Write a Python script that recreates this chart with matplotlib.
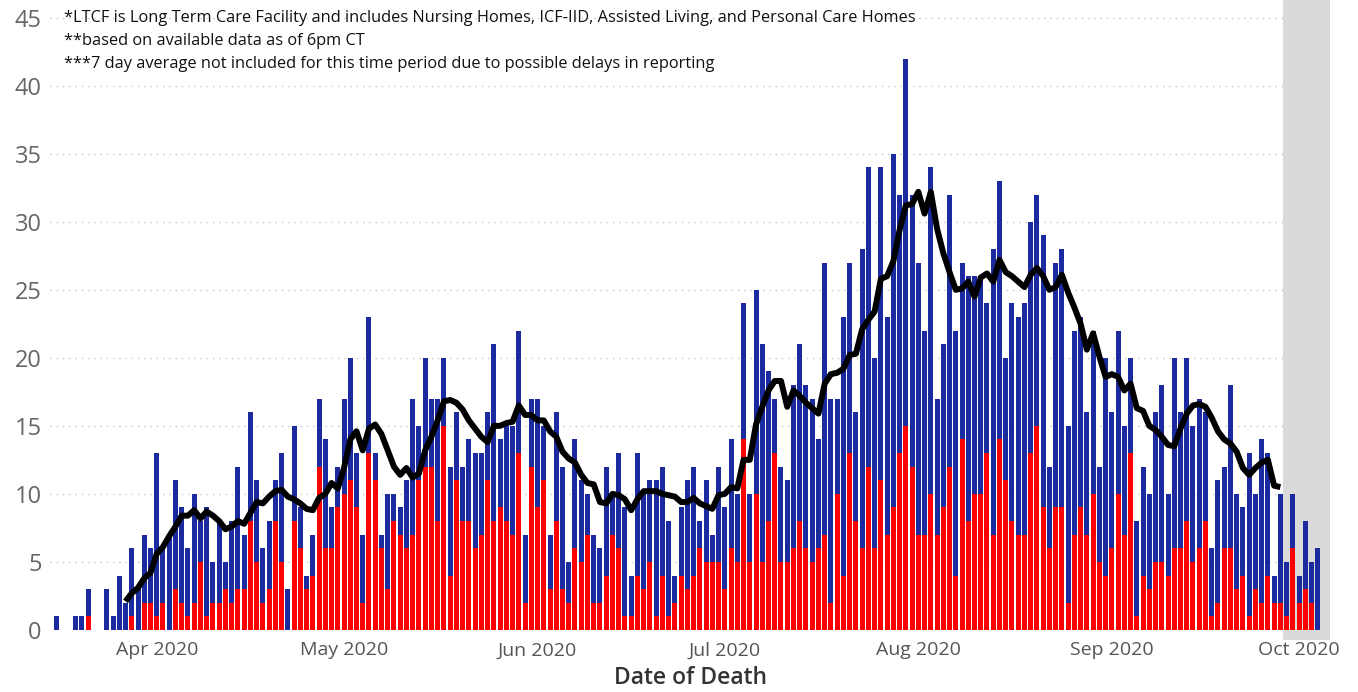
import matplotlib
matplotlib.use("Agg")
import matplotlib.pyplot as plt
import matplotlib.dates as mdates
import pandas as pd
import numpy as np

# ---- data ----
start_date = "2020-03-16"
total_deaths = [
    1, 0, 0, 1, 1, 3, 0, 0, 3, 1, 4, 2, 6, 3, 7, 6,            # Mar 16 - Mar 31
    13, 6, 7, 11, 9, 6, 10, 8, 9, 5, 8, 5, 8, 12, 7, 16, 11, 6, 8, 11,
    13, 3, 15, 9, 4, 7, 17, 14, 9, 12,                            # April
    17, 20, 13, 7, 23, 13, 7, 10, 10, 9, 11, 17, 15, 20, 17, 17, 20, 12,
    16, 12, 14, 13, 13, 16, 21, 14, 15, 15, 22, 7, 17,            # May
    17, 15, 7, 16, 12, 5, 14, 11, 10, 7, 6, 12, 10, 13, 9, 4, 13, 10,
    11, 11, 12, 8, 4, 9, 11, 12, 8, 11, 7, 12,                    # June
    9, 14, 10, 24, 10, 25, 21, 19, 17, 12, 11, 18, 21, 18, 17, 14, 27,
    17, 17, 23, 27, 16, 28, 34, 20, 34, 23, 35, 32, 42, 32,       # July
    27, 22, 34, 17, 21, 32, 22, 27, 26, 26, 26, 24, 28, 33, 20, 24, 23,
    24, 30, 32, 29, 12, 27, 28, 15, 22, 23, 16, 22, 12,           # August
    20, 16, 22, 15, 20, 8, 12, 10, 16, 18, 10, 20, 16, 20, 15, 17, 16,
    6, 11, 12, 18, 10, 9, 13, 10, 14, 13, 4, 10, 5, 10,           # September
    4, 8, 5, 6,                                                   # Oct 1 - Oct 4
]
ltcf_deaths = [
    0, 0, 0, 0, 0, 1, 0, 0, 0, 0, 0, 0, 1, 0, 2, 2,
    1, 2, 0, 3, 2, 1, 2, 5, 1, 2, 2, 3, 2, 3, 3, 8, 5, 2, 3, 8,
    5, 0, 8, 6, 3, 4, 12, 6, 6, 9,
    10, 11, 9, 2, 13, 11, 6, 3, 8, 7, 6, 7, 11, 12, 12, 8, 15, 4,
    11, 8, 8, 6, 7, 11, 8, 9, 8, 7, 13, 2, 12,
    9, 11, 3, 8, 3, 2, 6, 5, 7, 2, 2, 4, 7, 6, 1, 1, 4, 3,
    5, 1, 4, 1, 2, 4, 3, 4, 6, 5, 5, 5,
    3, 6, 5, 14, 5, 10, 5, 8, 13, 5, 5, 6, 8, 6, 5, 6, 7,
    2, 10, 4, 13, 8, 6, 12, 6, 11, 7, 9, 13, 15, 12,
    7, 7, 10, 7, 9, 12, 4, 14, 8, 10, 10, 13, 7, 14, 11, 8, 7,
    7, 13, 15, 9, 6, 9, 9, 2, 7, 9, 7, 10, 5,
    4, 6, 10, 7, 13, 1, 4, 3, 5, 5, 4, 6, 6, 8, 5, 6, 8,
    1, 2, 6, 6, 3, 4, 1, 3, 2, 4, 2, 2, 1, 6,
    2, 3, 2, 0,
]
avg_start_date = "2020-03-27"
seven_day_avg = [
    2.1, 2.7, 3.1, 3.8, 4.2,                                       # Mar 27 - 31
    5.6, 6.1, 6.9, 7.6, 8.4, 8.4, 8.8, 8.2, 8.7, 8.4, 8.0, 7.4, 7.6, 8.0,
    7.8, 8.6, 9.4, 9.3, 9.8, 10.2, 10.3, 9.8, 9.6, 9.3, 8.9, 8.8, 9.7,
    10.0, 10.8, 10.4,                                              # April
    11.9, 14.0, 14.6, 13.2, 14.8, 15.1, 14.4, 13.2, 12.0, 11.4, 11.9, 11.2,
    11.5, 13.2, 14.2, 15.4, 16.8, 16.9, 16.7, 16.2, 15.4, 14.8, 14.2, 13.8,
    15.0, 15.0, 15.2, 15.3, 16.5, 15.8, 15.8,                      # May
    15.4, 15.4, 14.6, 14.2, 13.1, 12.6, 12.3, 11.4, 10.8, 10.7, 9.4, 9.3,
    10.0, 9.9, 9.6, 8.8, 9.6, 10.2, 10.2, 10.2, 10.0, 9.9, 9.8, 9.4, 9.4,
    9.7, 9.3, 9.1, 8.9, 9.9,                                       # June
    10.0, 10.5, 10.4, 12.5, 12.5, 15.1, 16.4, 17.6, 18.3, 18.3, 16.4, 17.6,
    17.2, 16.7, 16.3, 15.9, 18.1, 18.8, 18.9, 19.2, 20.2, 20.3, 22.1, 22.8,
    23.4, 25.8, 26.0, 27.1, 29.4, 31.2, 31.3,                      # July
    32.2, 30.6, 32.2, 29.5, 27.7, 26.3, 25.0, 25.1, 25.6, 24.5, 25.9, 26.2,
    25.6, 27.2, 26.3, 26.0, 25.6, 25.2, 26.1, 26.6, 26.0, 25.0, 25.2, 26.1,
    24.8, 23.7, 22.5, 20.6, 21.8, 20.1, 18.6,                      # August
    18.8, 18.6, 17.6, 18.1, 16.3, 16.1, 15.0, 14.7, 14.2, 13.6, 13.5, 14.8,
    15.9, 16.5, 16.6, 16.4, 15.6, 14.6, 14.0, 13.7, 13.1, 11.9, 11.4, 11.9,
    12.3, 12.5, 10.6, 10.5,                                        # Sep 1 - 28
]
tick_months = ["2020-04-01", "2020-05-01", "2020-06-01", "2020-07-01",
               "2020-08-01", "2020-09-01", "2020-10-01"]
notes = [
    "*LTCF is Long Term Care Facility and includes Nursing Homes, ICF-IID, Assisted Living, and Personal Care Homes",
    "**based on available data as of 6pm CT",
    "***7 day average not included for this time period due to possible delays in reporting",
]
shade_start = "2020-09-28 12:00"

# ---- build ----
dates = pd.date_range(start_date, periods=len(total_deaths), freq="D")
avg_dates = pd.date_range(avg_start_date, periods=len(seven_day_avg), freq="D")
total = np.array(total_deaths, dtype=float)
ltcf = np.array(ltcf_deaths, dtype=float)
other = total - ltcf

plt.rcParams["font.family"] = ["Open Sans", "DejaVu Sans"]

fig = plt.figure(figsize=(13.58, 6.92), dpi=100)
ax = fig.add_axes([50 / 1358, 52 / 692, 1280 / 1358, 640 / 692])

blue = "#1b2a9e"
red = "#ff0000"

xnum = mdates.date2num(dates)
ax.bar(xnum, ltcf, width=0.8, color=red, edgecolor="none", zorder=3)
ax.bar(xnum, other, bottom=ltcf, width=0.8, color=blue, edgecolor="none", zorder=3)
ax.plot(mdates.date2num(avg_dates), seven_day_avg, color="black", lw=4.3,
        solid_joinstyle="round", solid_capstyle="butt", zorder=5)

x0 = mdates.date2num(pd.Timestamp(start_date)) - 1.1
x1 = mdates.date2num(pd.Timestamp("2020-10-05")) + 0.95
ax.set_xlim(x0, x1)
ax.set_ylim(-0.74, 46.3)

ax.axvspan(mdates.date2num(pd.Timestamp(shade_start)), x1, color="#dadada", zorder=1, lw=0)

ax.set_yticks(np.arange(0, 46, 5))
ax.set_yticklabels([str(v) for v in range(0, 46, 5)])
for v in range(5, 46, 5):
    ax.axhline(v, color="#c8c8c8", lw=1.0, ls=(0, (1, 3.5)), zorder=0)

ticks = mdates.date2num(pd.to_datetime(tick_months))
ax.set_xticks(ticks)
ax.set_xticklabels([pd.Timestamp(t).strftime("%b %Y") for t in tick_months])

ax.tick_params(axis="y", length=0, pad=6, labelsize=17, labelcolor="#666666")
ax.tick_params(axis="x", length=0, pad=1, labelsize=14, labelcolor="#555555")
for s in ax.spines.values():
    s.set_visible(False)

ax.set_xlabel("Date of Death", fontsize=16.5, color="#333333", fontweight="semibold", labelpad=5)

for i, t in enumerate(notes):
    fig.text(64 / 1358, 1 - (18 + 23 * i) / 692, t, fontsize=11.8, color="#111111",
             va="center", ha="left")

fig.savefig("out.png", dpi=100)
